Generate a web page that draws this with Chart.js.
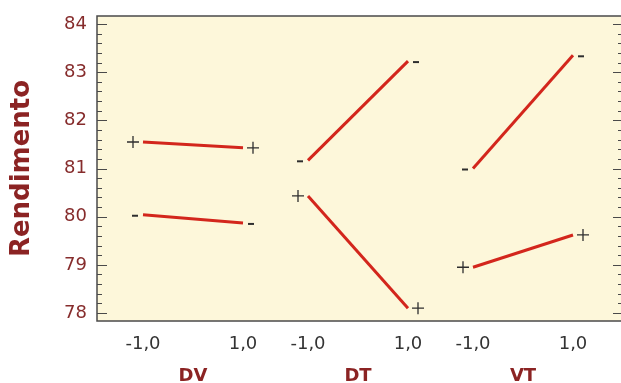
<!DOCTYPE html>
<html>
<head>
<meta charset="utf-8">
<script src="https://cdn.jsdelivr.net/npm/chart.js@4/dist/chart.umd.min.js"></script>
<style>
  html, body { margin: 0; padding: 0; background: #fff; overflow: hidden; }
</style>
</head>
<body>
<canvas id="chart" width="640" height="383"></canvas>
<script>
// factors and levels
const factors = ['DV', 'DT', 'VT'];
const levels = [-1, 1];
const yTicks = [78, 79, 80, 81, 82, 83, 84];

// mean response at levels -1 and 1, for the second factor low (-) and high (+)
const dvMinus = [80.04, 79.87];
const dvPlus = [81.55, 81.43];
const dtMinus = [81.17, 83.23];
const dtPlus = [80.43, 78.10];
const vtMinus = [81.00, 83.35];
const vtPlus = [78.95, 79.62];

const panelGap = 3.3; // distance between panels along x
const red = '#d3261c';
const darkRed = '#862c2c';

function series(panel, values, sign) {
    return {
        data: values.map((v, i) => ({ x: panel * panelGap + levels[i], y: v })),
        sign: sign,
        showLine: true,
        borderColor: red,
        borderWidth: 3,
        pointRadius: 0,
        fill: false
    };
}

const datasets = [
    series(0, dvPlus, '+'), series(0, dvMinus, '-'),
    series(1, dtMinus, '-'), series(1, dtPlus, '+'),
    series(2, vtMinus, '-'), series(2, vtPlus, '+')
];

const fmt = v => v.toFixed(1).replace('.', ',');

// fill plot area and draw frame with inward ticks
const frame = {
    id: 'frame',
    beforeDraw(chart) {
        const { ctx, chartArea: a } = chart;
        ctx.save();
        ctx.fillStyle = '#fdf7da';
        ctx.fillRect(a.left, a.top, a.right - a.left, a.bottom - a.top);
        ctx.restore();
    },
    afterDraw(chart) {
        const { ctx, chartArea: a } = chart;
        const y = chart.scales.y;
        ctx.save();
        ctx.strokeStyle = '#4a4a4a';
        ctx.lineWidth = 1.5;
        ctx.strokeRect(a.left, a.top, a.right - a.left, a.bottom - a.top);
        ctx.lineWidth = 1.2;
        for (let k = 0; k <= 30; k++) {
            const v = 78 + k * 0.2;
            const py = Math.round(y.getPixelForValue(v)) + 0.5;
            const len = k % 5 === 0 ? 10 : 5;
            ctx.beginPath();
            ctx.moveTo(a.left, py);
            ctx.lineTo(a.left + len, py);
            ctx.moveTo(a.right, py);
            ctx.lineTo(a.right - len, py);
            ctx.stroke();
        }
        ctx.restore();
    }
};

// + and - signs beside the ends of each line
const signs = {
    id: 'signs',
    afterDatasetsDraw(chart) {
        const { ctx } = chart;
        ctx.save();
        ctx.strokeStyle = '#2e2e2e';
        chart.data.datasets.forEach((ds, i) => {
            const pts = chart.getDatasetMeta(i).data;
            pts.forEach((p, j) => {
                const dir = j === 0 ? -1 : 1;
                if (ds.sign === '+') {
                    const cx = p.x + dir * 10, cy = p.y;
                    ctx.lineWidth = 1.3;
                    ctx.beginPath();
                    ctx.moveTo(cx - 6, cy); ctx.lineTo(cx + 6, cy);
                    ctx.moveTo(cx, cy - 6); ctx.lineTo(cx, cy + 6);
                    ctx.stroke();
                } else {
                    const cx = p.x + dir * 8, cy = p.y + 1;
                    ctx.lineWidth = 2;
                    ctx.beginPath();
                    ctx.moveTo(cx - 3, cy); ctx.lineTo(cx + 3, cy);
                    ctx.stroke();
                }
            });
        });
        ctx.restore();
    }
};

new Chart(document.getElementById('chart'), {
    type: 'scatter',
    data: { datasets: datasets },
    plugins: [frame, signs],
    options: {
        responsive: false,
        animation: false,
        layout: { padding: { top: 16, right: 17, bottom: 0, left: 0 } },
        plugins: {
            legend: { display: false },
            tooltip: { enabled: false }
        },
        scales: {
            x: {
                type: 'linear',
                position: 'bottom',
                weight: 0,
                min: -1.92,
                max: 8.6,
                afterFit: s => { s.height = 40; },
                afterBuildTicks: s => {
                    s.ticks = factors.flatMap((f, p) => levels.map(l => ({ value: p * panelGap + l })));
                },
                ticks: {
                    autoSkip: false,
                    maxRotation: 0,
                    padding: 13,
                    color: '#333',
                    font: { family: 'DejaVu Sans', size: 18 },
                    callback: (v, i) => fmt(levels[i % 2])
                },
                grid: { display: false, drawTicks: false },
                border: { display: false }
            },
            x2: {
                type: 'linear',
                position: 'bottom',
                weight: 1,
                min: -1.92,
                max: 8.6,
                afterFit: s => { s.height = 22; },
                afterBuildTicks: s => {
                    s.ticks = factors.map((f, p) => ({ value: p * panelGap }));
                },
                ticks: {
                    autoSkip: false,
                    maxRotation: 0,
                    padding: 5,
                    color: '#8b2323',
                    font: { family: 'DejaVu Sans', size: 18, weight: 'bold' },
                    callback: (v, i) => factors[i]
                },
                grid: { display: false, drawTicks: false },
                border: { display: false }
            },
            y: {
                min: 77.834,
                max: 84.166,
                afterFit: s => {
                    s.width = 97;
                    s.paddingTop = 0;
                    s.paddingBottom = 0;
                },
                afterBuildTicks: s => {
                    s.ticks = yTicks.map(v => ({ value: v }));
                },
                ticks: {
                    padding: 10,
                    color: darkRed,
                    font: { family: 'DejaVu Sans', size: 18 }
                },
                grid: { display: false, drawTicks: false },
                border: { display: false },
                title: {
                    display: true,
                    text: 'Rendimento',
                    color: '#8b2323',
                    padding: { top: 7, bottom: 0 },
                    font: { family: 'DejaVu Sans', size: 26, weight: 'bold' }
                }
            }
        }
    }
});
</script>
</body>
</html>
